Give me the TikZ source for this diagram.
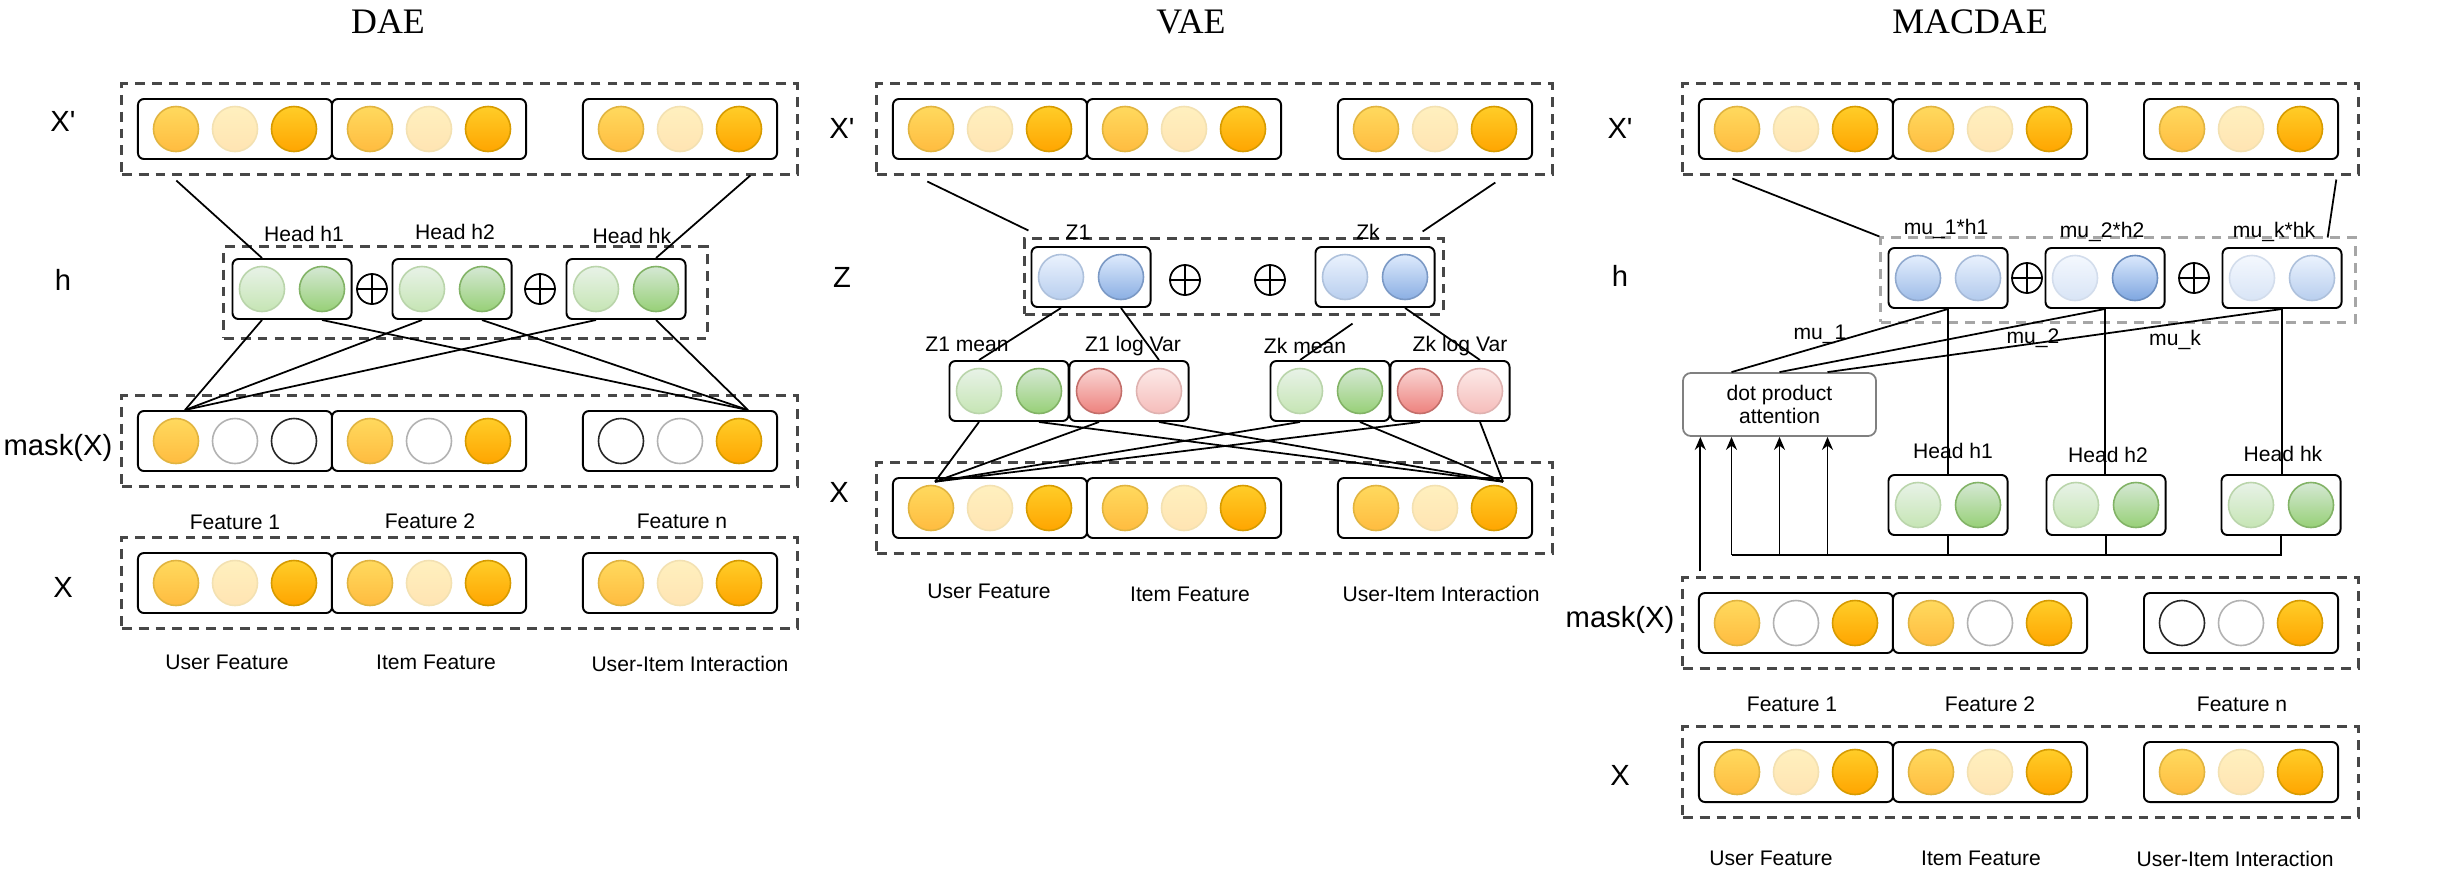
\documentclass[tikz,border=0pt]{standalone}
\usepackage{fontspec}
\setmainfont{Liberation Sans}
\newfontfamily\titlefont{Liberation Serif}
\usetikzlibrary{calc,arrows.meta}
\definecolor{otop}{HTML}{FFCD28}\definecolor{obot}{HTML}{FFA500}\definecolor{ostr}{HTML}{D79B00}
\definecolor{gtop}{HTML}{D5E8D4}\definecolor{gbot}{HTML}{97D077}\definecolor{gstr}{HTML}{82B366}
\definecolor{btop}{HTML}{DAE8FC}\definecolor{bbot}{HTML}{7EA6E0}\definecolor{bstr}{HTML}{6C8EBF}
\definecolor{rtop}{HTML}{F8CECC}\definecolor{rbot}{HTML}{EA6B66}\definecolor{rstr}{HTML}{B85450}

\begin{document}
\begin{tikzpicture}[x=0.01cm,y=-0.01cm,line width=0.5pt,>={Stealth[length=1.3mm,width=1.1mm]},
  ball/.style 2 args={circle,inner sep=0,minimum size=0.45cm,line width=0.45pt,
    draw=#1str!#2!white,top color=#1top!#2!white,bottom color=#1bot!#2!white},
  o1/.style={ball={o}{75}}, o2/.style={ball={o}{30}}, o3/.style={ball={o}{100}},
  w1/.style={circle,inner sep=0,minimum size=0.45cm,line width=0.45pt,draw=black!30,fill=white},
  w2/.style={w1,draw=black!85},
  g1/.style={ball={g}{55}}, g2/.style={ball={g}{100}},
  b30/.style={ball={b}{30}}, b55/.style={ball={b}{55}}, b60/.style={ball={b}{60}},
  b75/.style={ball={b}{75}}, b90/.style={ball={b}{90}}, b100/.style={ball={b}{100}},
  r45/.style={ball={r}{45}}, r85/.style={ball={r}{85}},
  box3/.style={draw,rounded corners=0.06cm,line width=0.55pt,fill=white,inner sep=0,
    minimum width=1.94cm,minimum height=0.6cm},
  box2/.style={box3,minimum width=1.19cm},
  grp/.style={draw=black!72,line width=0.85pt,dash pattern=on 2.8pt off 2pt,inner sep=0,
    minimum height=0.9cm},
  oplus/.style={circle,draw,line width=0.5pt,inner sep=0,minimum size=0.3cm,
    path picture={\draw[line width=0.5pt] (path picture bounding box.north)--(path picture bounding box.south)
      (path picture bounding box.west)--(path picture bounding box.east);}},
  att/.style={draw=black!50,line width=0.5pt,rounded corners=0.08cm,minimum width=1.93cm,
    minimum height=0.63cm,align=center,inner sep=0,font=\fontsize{6}{6.6}\selectfont},
  lbl/.style={inner sep=0,font=\fontsize{6}{7.2}\selectfont,text height=1.5ex,text depth=0.25ex},
  rowl/.style={inner sep=0,font=\fontsize{8.3}{10}\selectfont},
  ttl/.style={inner sep=0,font=\titlefont\fontsize{10.2}{12}\selectfont}]
\useasboundingbox (0,0) rectangle (2454,869);

% feature rows: dashed group, three boxes, nine units
\foreach \p/\ox/\y/\cs in {dxp/122/129/{o1,o2,o3,o1,o2,o3,o1,o2,o3},
    dmk/122/441/{o1,w1,w2,o1,w1,o3,w2,w1,o3}, dx/122/583/{o1,o2,o3,o1,o2,o3,o1,o2,o3},
    vxp/877/129/{o1,o2,o3,o1,o2,o3,o1,o2,o3}, vx/877/508/{o1,o2,o3,o1,o2,o3,o1,o2,o3},
    mxp/1683/129/{o1,o2,o3,o1,o2,o3,o1,o2,o3}, mmk/1683/623/{o1,w1,o3,o1,w1,o3,w2,w1,o3},
    mx/1683/772/{o1,o2,o3,o1,o2,o3,o1,o2,o3}} {
  \node[grp,minimum width=6.75cm] (\p) at (\ox+337.5,\y) {};
  \foreach \k/\dx in {1/113,2/307,3/558}
    \node[box3] (\p\k) at (\ox+\dx,\y) {};
  \foreach \st [count=\i from 0] in \cs {
    \pgfmathsetmacro\cx{\ox+{113,307,558}[int(\i/3)]+59*(mod(\i,3)-1)}
    \node[\st] (\p-\i) at (\cx,\y) {};
  }
}

% hidden groups
\node[grp,minimum width=4.83cm,minimum height=0.91cm] (dh) at (465.5,292.5) {};
\node[grp,minimum width=4.18cm,minimum height=0.75cm] (vz) at (1234,276.5) {};
\node[grp,draw=black!35,minimum width=4.74cm,minimum height=0.84cm] (mh) at (2118,280) {};

% two-unit boxes
\foreach \n/\x/\y/\sa/\sb in {dh1/292/289/g1/g2, dh2/452/289/g1/g2, dh3/626/289/g1/g2,
    vz1/1091/277/b55/b90, vz2/1375/277/b55/b90,
    vmu1/1009/391/g1/g2, vlv1/1129/391/r85/r45, vmu2/1330/391/g1/g2, vlv2/1450/391/r85/r45,
    mh1/1948/278/b75/b60, mh2/2105/278/b30/b100, mh3/2282/278/b30/b55,
    mhd1/1948/505/g1/g2, mhd2/2106/505/g1/g2, mhd3/2281/505/g1/g2} {
  \node[box2] (\n) at (\x,\y) {};
  \node[\sa] (\n-a) at (\x-30,\y) {};
  \node[\sb] (\n-b) at (\x+30,\y) {};
}
\foreach \n/\x/\y in {dp1/372/289, dp2/540/289, vp1/1185/280, vp2/1270/280, mp1/2027/278, mp2/2194/278}
  \node[oplus] (\n) at (\x,\y) {};
\node[att] (matt) at (1779.5,404.5) {dot product\\attention};

% texts
\node[ttl] (dt) at (388,22) {DAE};
\node[ttl] (vt) at (1191,22) {VAE};
\node[ttl] (mt) at (1970,22) {MACDAE};
\foreach \n/\x/\y/\t in {dr1/63/121/X\textquotesingle, dr2/63/280/h, dr3/58/448/mask(X), dr4/63/587/X,
    vr1/842/128/X\textquotesingle, vr2/842/277/Z, vr3/839/492/X,
    mr1/1620/128/X\textquotesingle, mr2/1620/276/h, mr3/1620/620/mask(X), mr4/1620/775/X}
  \node[rowl] (\n) at (\x,\y) {\t};
\foreach \n/\x/\y/\t in {dl1/304/230/Head h1, dl2/455/228/Head h2, dl3/632/232/Head hk,
    dl4/235/518/Feature 1, dl5/430/517/Feature 2, dl6/682/517/Feature n,
    dl7/227/658/User Feature, dl8/436/658/Item Feature, dl9/690/660/User-Item Interaction,
    vl1/1078/228/Z1, vl2/1368/228/Zk, vl3/967/340/Z1 mean, vl4/1133/340/Z1 log Var,
    vl5/1305/342/Zk mean, vl6/1460/340/Zk log Var,
    vl7/989/587/User Feature, vl8/1190/590/Item Feature, vl9/1441/590/User-Item Interaction,
    ml1/1946/223/mu\_1*h1, ml2/2102/226/mu\_2*h2, ml3/2274/226/mu\_k*hk,
    ml4/1820/328/mu\_1, ml5/2033/332/mu\_2, ml6/2175/334/mu\_k,
    ml7/1953/447/Head h1, ml8/2108/451/Head h2, ml9/2283/450/Head hk,
    mla/1792/700/Feature 1, mlb/1990/700/Feature 2, mlc/2242/700/Feature n,
    mld/1771/854/User Feature, mle/1981/854/Item Feature, mlf/2235/855/User-Item Interaction}
  \node[lbl] (\n) at (\x,\y) {\t};

% DAE
\draw (dxp.south west) ++(56,5) -- (dh1-a |- dh1.north);
\draw (dxp.south west) ++(630,0) -- (dh3-b |- dh3.north);
\foreach \n in {dh1,dh2,dh3} {
  \draw (\n-a |- \n.south) -- ($(dmk-0 |- dmk1.north)+(9,0)$);
  \draw (\n-b |- \n.south) -- ($(dmk-8 |- dmk3.north)+(9,0)$);
}

% VAE
\draw (vxp.south west) ++(52,6) -- ($(vz.north west)+(5,-7)$);
\draw (vxp.south west) ++(620,7) -- ($(vz.north east)+(-22,-6)$);
\draw (vz1-a |- vz1.south) -- (vmu1-a |- vmu1.north);
\draw (vz1-b |- vz1.south) -- (vlv1-b |- vlv1.north);
\draw ($(vz2.south)!0.3!(vmu2-a |- vmu2.north)$) -- (vmu2-a |- vmu2.north);
\draw (vz2-b |- vz2.south) -- (vlv2-b |- vlv2.north);
\foreach \n in {vmu1,vlv1,vmu2,vlv2} {
  \draw (\n-a |- \n.south) -- ($(vx-0.north)+(4,-3)$);
  \draw (\n-b |- \n.south) -- ($(vx-8.north)+(9,-3)$);
}

% MACDAE
\draw (mxp.south west) ++(51,3) -- (mh.north west);
\draw (mxp.south west) ++(655,4) -- ($(mh.north east)+(-29,1)$);
\draw (mh1.south) -- ($(matt.north)+(-48,0)$);
\draw (mh2.south) -- (matt.north);
\draw (mh3.south) -- ($(matt.north)+(48,0)$);
\coordinate (mbus) at ($(matt.south)+(-48,118)$);
\foreach \k in {1,2,3} {
  \draw (mh\k.south) -- (mh\k.south |- mhd\k.north);
  \draw (mhd\k.south) -- (mhd\k.south |- mbus);
}
\draw (mhd3.south) |- (mbus);
\foreach \dx in {-48,0,48}
  \draw[->] ($(matt.south)+(\dx,118)$) -- ($(matt.south)+(\dx,0)$);
\coordinate (mmkin) at ($(mmk.north west)+(19,-5)$);
\draw[->] (mmkin) -- (mmkin |- matt.south);
\end{tikzpicture}
\end{document}
